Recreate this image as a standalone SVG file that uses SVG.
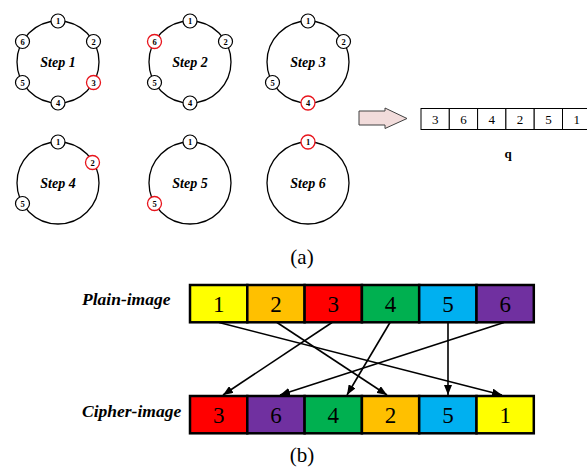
<svg xmlns="http://www.w3.org/2000/svg" width="587" height="467" viewBox="0 0 587 467">
<style>
.ring{fill:none;stroke:#000;stroke-width:1.3}
.n{fill:#fff;stroke:#000;stroke-width:1.2}
.r{fill:#fff;stroke:#e8141c;stroke-width:1.3}
.nt{font-family:"Liberation Serif","Times New Roman",serif;font-weight:bold;font-size:8.5px;text-anchor:middle}
.st{font-family:"Liberation Serif","Times New Roman",serif;font-weight:bold;font-style:italic;font-size:14px;text-anchor:middle}
.qb{fill:#fff;stroke:#000;stroke-width:1}
.qt{font-family:"Liberation Serif","Times New Roman",serif;font-size:13px;text-anchor:middle}
.bx{stroke:#000;stroke-width:2.5}
.bt{font-family:"Liberation Serif","Times New Roman",serif;font-size:23px;text-anchor:middle}
.lb{font-family:"Liberation Serif","Times New Roman",serif;font-weight:bold;font-style:italic;font-size:17.5px}
.cap{font-family:"Liberation Serif","Times New Roman",serif;font-size:21px;text-anchor:middle}
.cn{fill:none;stroke:#000;stroke-width:1.6;marker-end:url(#ah)}
</style>
<defs>
<marker id="ah" viewBox="0 0 10 8" refX="10" refY="4" markerWidth="10" markerHeight="8" markerUnits="userSpaceOnUse" orient="auto">
<path d="M0,0 L10,4 L0,8 Z" fill="#000"/>
</marker>
</defs>

<!-- Step 1 -->
<g id="step1">
<circle class="ring" cx="58" cy="62" r="41"/>
<circle class="n" cx="58" cy="21" r="7"/><text class="nt" x="58" y="24">1</text>
<circle class="n" cx="93.5" cy="41.5" r="7"/><text class="nt" x="93.5" y="44.5">2</text>
<circle class="r" cx="93.5" cy="82.5" r="7"/><text class="nt" x="93.5" y="85.5">3</text>
<circle class="n" cx="58" cy="103" r="7"/><text class="nt" x="58" y="106">4</text>
<circle class="n" cx="22.5" cy="82.5" r="7"/><text class="nt" x="22.5" y="85.5">5</text>
<circle class="n" cx="22.5" cy="41.5" r="7"/><text class="nt" x="22.5" y="44.5">6</text>
<text class="st" x="58" y="67">Step 1</text>
</g>

<!-- Step 2 -->
<g id="step2">
<circle class="ring" cx="190" cy="62" r="41"/>
<circle class="n" cx="190" cy="21" r="7"/><text class="nt" x="190" y="24">1</text>
<circle class="n" cx="225.5" cy="41.5" r="7"/><text class="nt" x="225.5" y="44.5">2</text>
<circle class="n" cx="190" cy="103" r="7"/><text class="nt" x="190" y="106">4</text>
<circle class="n" cx="154.5" cy="82.5" r="7"/><text class="nt" x="154.5" y="85.5">5</text>
<circle class="r" cx="154.5" cy="41.5" r="7"/><text class="nt" x="154.5" y="44.5">6</text>
<text class="st" x="190" y="67">Step 2</text>
</g>

<!-- Step 3 -->
<g id="step3">
<circle class="ring" cx="308" cy="62" r="41"/>
<circle class="n" cx="308" cy="21" r="7"/><text class="nt" x="308" y="24">1</text>
<circle class="n" cx="343.5" cy="41.5" r="7"/><text class="nt" x="343.5" y="44.5">2</text>
<circle class="r" cx="308" cy="103" r="7"/><text class="nt" x="308" y="106">4</text>
<circle class="n" cx="272.5" cy="82.5" r="7"/><text class="nt" x="272.5" y="85.5">5</text>
<text class="st" x="308" y="67">Step 3</text>
</g>

<!-- Step 4 -->
<g id="step4">
<circle class="ring" cx="58" cy="183" r="41"/>
<circle class="n" cx="58" cy="142" r="7"/><text class="nt" x="58" y="145">1</text>
<circle class="r" cx="92.5" cy="162.5" r="7"/><text class="nt" x="92.5" y="165.5">2</text>
<circle class="n" cx="22.5" cy="203.5" r="7"/><text class="nt" x="22.5" y="206.5">5</text>
<text class="st" x="58" y="188">Step 4</text>
</g>

<!-- Step 5 -->
<g id="step5">
<circle class="ring" cx="190" cy="183" r="41"/>
<circle class="n" cx="190" cy="142" r="7"/><text class="nt" x="190" y="145">1</text>
<circle class="r" cx="154.5" cy="203.5" r="7"/><text class="nt" x="154.5" y="206.5">5</text>
<text class="st" x="190" y="188">Step 5</text>
</g>

<!-- Step 6 -->
<g id="step6">
<circle class="ring" cx="308" cy="183" r="41"/>
<circle class="r" cx="308" cy="142" r="7"/><text class="nt" x="308" y="145">1</text>
<text class="st" x="308" y="188">Step 6</text>
</g>

<!-- Block arrow -->
<g id="blockarrow">
<path d="M359,111 L385,111 L385,108 L407,118.5 L385,128.5 L385,125 L359,125 Z" fill="#f2dcdb" stroke="#404040" stroke-width="1"/>
</g>

<!-- q array -->
<g id="q">
<rect class="qb" x="421" y="108.5" width="28.3" height="21"/>
<rect class="qb" x="449.3" y="108.5" width="28.3" height="21"/>
<rect class="qb" x="477.6" y="108.5" width="28.3" height="21"/>
<rect class="qb" x="505.9" y="108.5" width="28.3" height="21"/>
<rect class="qb" x="534.2" y="108.5" width="28.3" height="21"/>
<rect class="qb" x="562.5" y="108.5" width="28.3" height="21"/>
<text class="qt" x="435.2" y="124">3</text>
<text class="qt" x="463.5" y="124">6</text>
<text class="qt" x="491.8" y="124">4</text>
<text class="qt" x="520.1" y="124">2</text>
<text class="qt" x="548.4" y="124">5</text>
<text class="qt" x="576.7" y="124">1</text>
<text x="508" y="158" font-family="'Liberation Serif','Times New Roman',serif" font-weight="bold" font-size="13" text-anchor="middle">q</text>
</g>

<text class="cap" x="302" y="264">(a)</text>

<!-- Plain-image -->
<g id="plain">
<text class="lb" x="82" y="305">Plain-image</text>
<rect class="bx" x="190" y="285" width="57.3" height="37.3" fill="#ffff00"/>
<rect class="bx" x="247.3" y="285" width="57.3" height="37.3" fill="#ffc000"/>
<rect class="bx" x="304.6" y="285" width="57.3" height="37.3" fill="#ff0000"/>
<rect class="bx" x="361.9" y="285" width="57.3" height="37.3" fill="#00b050"/>
<rect class="bx" x="419.2" y="285" width="57.3" height="37.3" fill="#00b0f0"/>
<rect class="bx" x="476.5" y="285" width="57.3" height="37.3" fill="#7030a0"/>
<text class="bt" x="218.7" y="312">1</text>
<text class="bt" x="276" y="312">2</text>
<text class="bt" x="333.3" y="312">3</text>
<text class="bt" x="390.6" y="312">4</text>
<text class="bt" x="447.9" y="312">5</text>
<text class="bt" x="505.2" y="312">6</text>
</g>

<!-- Cipher-image -->
<g id="cipher">
<text class="lb" x="82" y="417">Cipher-image</text>
<rect class="bx" x="190" y="396" width="57.3" height="37.3" fill="#ff0000"/>
<rect class="bx" x="247.3" y="396" width="57.3" height="37.3" fill="#7030a0"/>
<rect class="bx" x="304.6" y="396" width="57.3" height="37.3" fill="#00b050"/>
<rect class="bx" x="361.9" y="396" width="57.3" height="37.3" fill="#ffc000"/>
<rect class="bx" x="419.2" y="396" width="57.3" height="37.3" fill="#00b0f0"/>
<rect class="bx" x="476.5" y="396" width="57.3" height="37.3" fill="#ffff00"/>
<text class="bt" x="218.7" y="423">3</text>
<text class="bt" x="276" y="423">6</text>
<text class="bt" x="333.3" y="423">4</text>
<text class="bt" x="390.6" y="423">2</text>
<text class="bt" x="447.9" y="423">5</text>
<text class="bt" x="505.2" y="423">1</text>
</g>

<text class="cap" x="302" y="462">(b)</text>

<!-- Connectors -->
<g id="connectors">
<line class="cn" x1="219" y1="322.5" x2="502" y2="395"/>
<line class="cn" x1="277" y1="322.5" x2="387" y2="395"/>
<line class="cn" x1="332" y1="322.5" x2="223" y2="395"/>
<line class="cn" x1="390" y1="322.5" x2="347" y2="395"/>
<line class="cn" x1="448" y1="322.5" x2="448" y2="395"/>
<line class="cn" x1="504" y1="322.5" x2="280" y2="395"/>
</g>
</svg>
